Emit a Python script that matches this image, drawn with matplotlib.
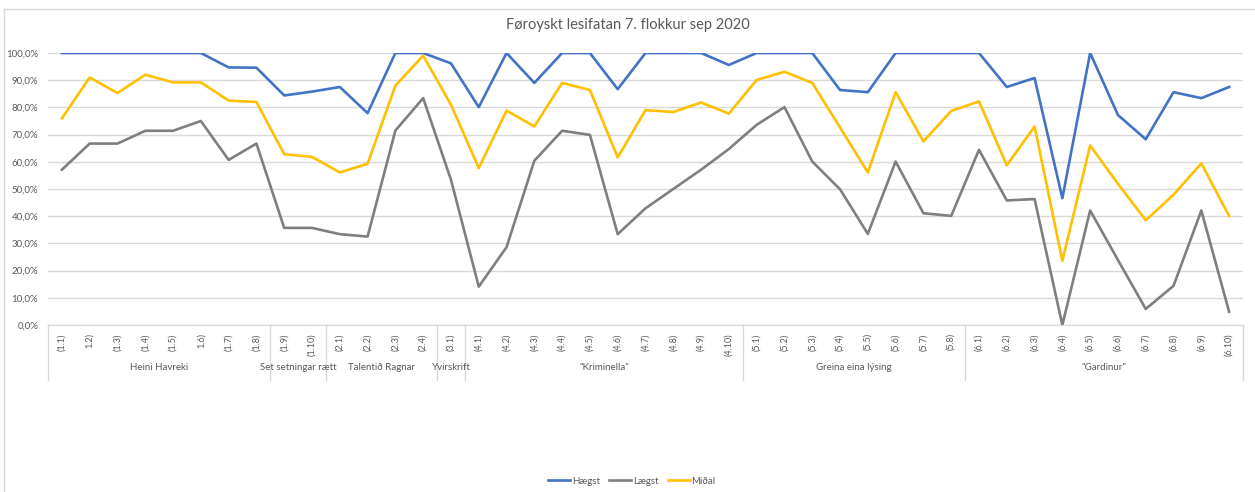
import numpy as np
import matplotlib.pyplot as plt
from matplotlib.lines import Line2D
import matplotlib.transforms as mtransforms

plt.rcParams['font.family'] = ['Lato', 'DejaVu Sans']

title = "Føroyskt lesifatan 7. flokkur sep 2020"

cats = ["(1.1)", "1.2)", "(1.3)", "(1.4)", "(1.5)", "1.6)", "(1.7)", "(1.8)", "(1.9)", "(1.10)",
        "(2.1)", "(2.2)", "(2.3)", "(2.4)", "(3.1)",
        "(4.1)", "(4.2)", "(4.3)", "(4.4)", "(4.5)", "(4.6)", "(4.7)", "(4.8)", "(4.9)", "(4.10)",
        "(5.1)", "(5.2)", "(5.3)", "(5.4)", "(5.5)", "(5.6)", "(5.7)", "(5.8)",
        "(6.1)", "(6.2)", "(6.3)", "(6.4)", "(6.5)", "(6.6)", "(6.7)", "(6.8)", "(6.9)", "(6.10)"]

groups = ["Heini Havreki", "Set setningar rætt", "Talentið Ragnar", "Yvirskrift",
          "\"Kriminella\"", "Greina eina lýsing", "\"Gardinur\""]
group_sizes = [8, 2, 4, 1, 10, 8, 10]

haegst = [100, 100, 100, 100, 100, 100, 94.7, 94.6, 84.4, 85.8,
          87.5, 77.9, 100, 100, 96.2,
          80.1, 100, 89.0, 100, 100, 86.7, 100, 100, 100, 95.6,
          100, 100, 100, 86.4, 85.6, 100, 100, 100,
          100, 87.5, 90.8, 46.6, 100, 77.2, 68.3, 85.6, 83.4, 87.5]

laegst = [57.1, 66.7, 66.7, 71.4, 71.4, 75.0, 60.7, 66.7, 35.7, 35.7,
          33.4, 32.5, 71.5, 83.4, 53.4,
          14.1, 28.6, 60.4, 71.4, 69.9, 33.4, 42.9, 50.0, 57.1, 64.7,
          73.6, 80.1, 60.1, 49.9, 33.5, 60.1, 41.1, 40.1,
          64.4, 45.8, 46.3, 0.0, 42.1, 23.9, 5.9, 14.4, 42.1, 4.9]

midal = [76.0, 91.0, 85.3, 92.0, 89.2, 89.2, 82.5, 82.0, 62.8, 61.8,
         56.1, 59.3, 88.0, 99.0, 81.0,
         57.7, 78.8, 73.0, 89.0, 86.4, 61.6, 79.0, 78.3, 81.8, 77.7,
         90.1, 93.1, 89.0, 72.6, 56.1, 85.6, 67.5, 78.7,
         82.2, 58.7, 73.0, 23.6, 66.0, 51.9, 38.5, 47.9, 59.4, 40.1]

txt = "#595959"
grid = "#D9D9D9"

fig = plt.figure(figsize=(12.55, 4.92), dpi=100)
ax = fig.add_axes([48 / 1255, 1 - 325 / 492, 1195 / 1255, 272 / 492])

x = np.arange(len(cats))
ax.plot(x, haegst, color="#4472C4", lw=1.9, label="Hægst")
ax.plot(x, laegst, color="#7F7F7F", lw=1.9, label="Lægst")
ax.plot(x, midal, color="#FFC000", lw=1.9, label="Miðal")

ax.set_xlim(-0.5, len(cats) - 0.5)
ax.set_ylim(0, 100)
ax.set_yticks(np.arange(0, 101, 10))
ax.set_yticklabels([f"{v},0%" for v in range(0, 101, 10)], color=txt, fontsize=7)
ax.yaxis.grid(True, color=grid, lw=1)
ax.set_axisbelow(True)
ax.tick_params(axis="y", length=0, pad=7)
ax.set_xticks(x)
ax.set_xticklabels(cats, rotation=90, color=txt, fontsize=6.5, va="top")
ax.tick_params(axis="x", length=0, pad=6)
for s in ["left", "right", "top"]:
    ax.spines[s].set_visible(False)
ax.spines["bottom"].set_color(grid)

# multi-level category axis: separators and group labels
trans = mtransforms.blended_transform_factory(ax.transData, ax.transAxes)
bottom = -(380 - 325) / 272
edges = np.concatenate([[0], np.cumsum(group_sizes)]) - 0.5
for e in edges:
    ax.add_line(Line2D([e, e], [0, bottom], transform=trans, color=grid, lw=1, clip_on=False))
label_y = -(367 - 325) / 272
for g, a, b in zip(groups, edges[:-1], edges[1:]):
    ax.text((a + b) / 2, label_y, g, transform=trans, ha="center", va="center",
            color=txt, fontsize=7)

fig.text(628 / 1255, 1 - 25 / 492, title, ha="center", va="center", color=txt, fontsize=10.5)

fig.legend(loc="center", bbox_to_anchor=(632 / 1255, 1 - 481 / 492), ncol=3, frameon=False,
           fontsize=7, labelcolor=txt, handlelength=2.2, columnspacing=1.0, handletextpad=0.2)

# chart border (cropped at right and bottom)
fig.add_artist(Line2D([4 / 1255, 4 / 1255], [0, 1 - 9 / 492], transform=fig.transFigure, color=grid, lw=1))
fig.add_artist(Line2D([4 / 1255, 1], [1 - 9 / 492, 1 - 9 / 492], transform=fig.transFigure, color=grid, lw=1))

fig.savefig("out.png", dpi=100)
